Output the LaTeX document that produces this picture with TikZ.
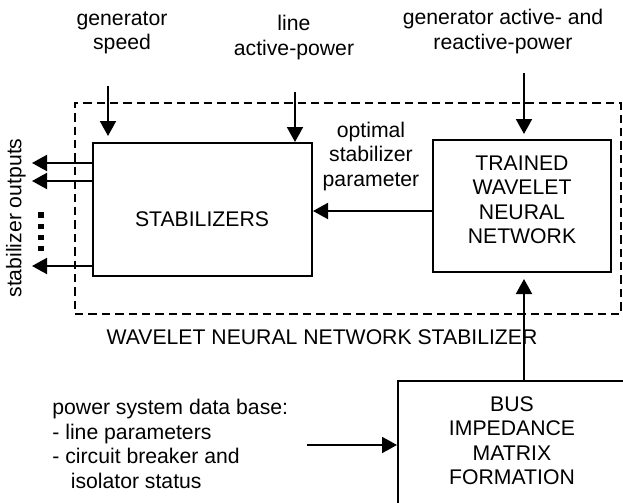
\documentclass[tikz,border=0pt]{standalone}
\usepackage{fontspec}
\setmainfont{Liberation Sans}
\usetikzlibrary{arrows.meta,calc}
\begin{document}
\begin{tikzpicture}[x=0.5pt,y=-0.5pt,
  font=\fontsize{10.6pt}{12.25pt}\selectfont,
  txt/.style={inner sep=0pt, align=center},
  blockbox/.style={draw, line width=1pt, inner sep=0pt},
  frame/.style={draw, line width=0.8pt, dash pattern=on 4.2pt off 2.5pt, inner sep=0pt},
  arr/.style={line width=1pt, -{Triangle[length=7.5pt,width=8pt]}}]
\useasboundingbox (0,0) rectangle (623,503);
\clip (0,0) rectangle (623,503);

% dashed frame of the stabilizer
\node[frame, minimum width=273pt, minimum height=105.5pt] (frm) at (348,208.5) {};
\node[txt] (frmlbl) at (322,337) {WAVELET NEURAL NETWORK STABILIZER};

% blocks
\node[blockbox, minimum width=109.5pt, minimum height=66.5pt] (stab) at (202.5,209.5) {};
\node[txt] (stabtxt) at (202,219) {STABILIZERS};

\node[blockbox, minimum width=89pt, minimum height=66pt] (trained) at (522,206) {};
\node[txt] (trainedtxt) at (522,200) {TRAINED\\WAVELET\\NEURAL\\NETWORK};

\node[blockbox, minimum width=126pt, minimum height=74.5pt] (bus) at (524,455.5) {};
\node[txt] (bustxt) at (512,440.5) {BUS\\IMPEDANCE\\MATRIX\\FORMATION};

% input labels
\node[txt] (gs) at (122,33) {generator\\speed};
\node[txt] (lap) at (294,37.5) {line\\active-power};
\node[txt] (gar) at (503,31.5) {generator active- and\\reactive-power};
\node[txt] (opt) at (371,156.5) {optimal\\stabilizer\\parameter};
\node[txt, align=left, anchor=west] (db) at (52,444)
  {power system data base:\\- line parameters\\- circuit breaker and\\\hspace*{9.2pt}isolator status};
\node[txt, rotate=90] (outlbl) at (16,218) {stabilizer outputs};

% free ends of the connectors
\coordinate (gsin) at (108,86);
\coordinate (lapin) at (295,92);
\coordinate (garin) at (524,73);
\coordinate (o1) at (32,163);
\coordinate (o2) at (32,181);
\coordinate (o3) at (32,266);
\coordinate (dbin) at (307,445);

% connectors
\draw[arr, shorten >=3pt] (gsin) -- (gsin |- stab.north);
\draw[arr] (lapin) -- (lapin |- stab.north);
\draw[arr, shorten >=2.5pt] (garin) -- (garin |- trained.north);
\draw[arr] ([yshift=-2.5pt]trained.west) -- ([yshift=-2.5pt]trained.west -| stab.east);
\draw[arr, shorten >=3pt] (bus.north) -- (bus.north |- trained.south);
\draw[arr] (dbin) -- (dbin -| bus.west);
\draw[arr] (o1 -| stab.west) -- (o1);
\draw[arr] (o2 -| stab.west) -- (o2);
\draw[arr] (o3 -| stab.west) -- (o3);

% ellipsis between the outputs
\foreach \yy in {215,226.5,237.5,248.5}
  \fill (38,\yy-2.6) rectangle (44,\yy+2.6);
\end{tikzpicture}
\end{document}
